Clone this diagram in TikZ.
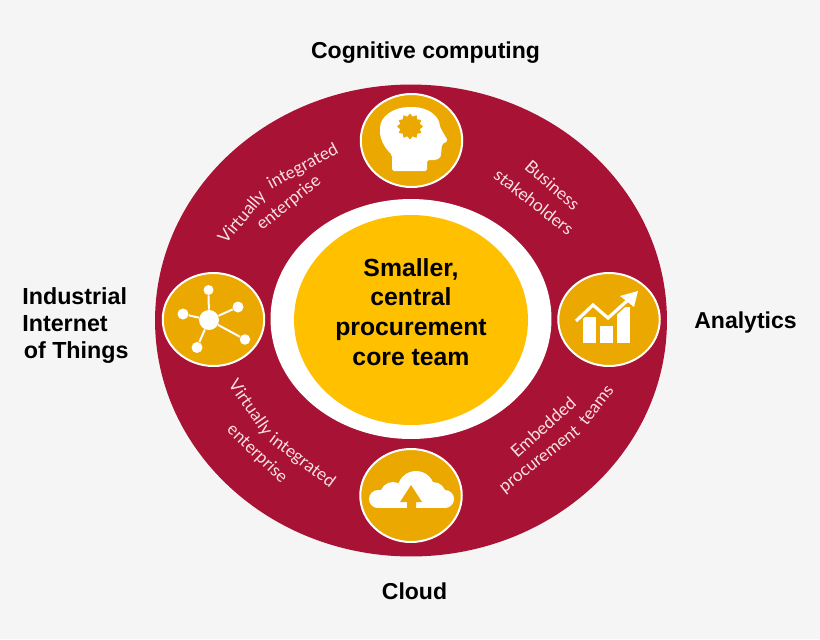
\documentclass[tikz,border=0pt]{standalone}
\usepackage{fontspec}
\setmainfont{Liberation Sans}
\newfontfamily\ringfont{Lato}
\usepackage{xcolor}
\usepackage{tikz}
\usetikzlibrary{positioning,shapes.geometric}
\definecolor{pagegrey}{RGB}{245,245,245}
\definecolor{ringred}{RGB}{168,18,52}
\definecolor{coreyellow}{RGB}{255,192,0}
\definecolor{icongold}{RGB}{234,168,0}
\definecolor{ringtextcol}{RGB}{250,225,228}

\begin{document}
\begin{tikzpicture}[
    x=0.02cm, y=-0.02cm,
    disc/.style={ellipse, inner sep=0pt, minimum width=#1},
    hubicon/.style={disc=2.03cm, minimum height=1.86cm, draw=white, line width=0.04cm, fill=icongold},
    toplabel/.style={font=\bfseries\fontsize{13.1}{15.6}\selectfont, text=black, inner sep=0pt},
    ringtext/.style={font=\ringfont\fontsize{9.8}{12}\selectfont, text=ringtextcol, inner sep=0pt, rotate=#1},
    dot/.style={circle, fill=white, inner sep=0pt, minimum size=#1},
    link/.style={draw=white, line width=0.04cm}
]
\useasboundingbox (0,0) rectangle (820,639);
\fill[pagegrey] (0,0) rectangle (820,639);

\node[disc=10.24cm, minimum height=9.44cm, fill=ringred] (ring) at (411,320.5) {};
\node[disc=5.62cm, minimum height=4.8cm, fill=white] (gap) at (411,319) {};
\node[disc=4.68cm, minimum height=4.2cm, fill=coreyellow] (core) at (411,320) {};
\node[align=center, inner sep=0pt, font=\bfseries\fontsize{14.1}{17}\selectfont] (coretext) at (411,312)
    {Smaller,\\central\\procurement\\core team};

\node[hubicon] (cognitive) at (411.5,140.5) {};
\node[hubicon] (iiot) at (213.5,319.5) {};
\node[hubicon] (analytics) at (609,319.5) {};
\node[hubicon] (cloud) at (411,495.5) {};

\node[toplabel] (cognitivelbl) at (425.5,53) {Cognitive computing};
\node[toplabel] (analyticslbl) at (745.5,323) {Analytics};
\node[toplabel] (cloudlbl) at (414.5,591) {Cloud};
\node[toplabel, font=\bfseries\fontsize{13.25}{15.6}\selectfont, align=left, anchor=west] (iiotlbl) at (22,325.5)
    {Industrial\\Internet\\\hspace*{0.03cm}of Things};

% ring texts
\node[ringtext=50] (virtuallytop) at (242.5,217.5) {Virtually};
\node[ringtext=28] (integratedtop) at (303,167) {integrated};
\node[ringtext=39] (enterprisetop) at (289,203) {enterprise};
\node[ringtext=-41] (business) at (552.5,185) {Business};
\node[ringtext=-38] (stakeholders) at (534,202) {stakeholders};
\node[ringtext=-55] (virtuallybot) at (250,408) {Virtually};
\node[ringtext=-37] (integratedbot) at (302,461) {integrated};
\node[ringtext=-44] (enterprisebot) at (257,454) {enterprise};
\node[ringtext=42] (embedded) at (543,427) {Embedded};
\node[ringtext=38] (procurement) at (540,460) {procurement};
\node[ringtext=52] (teams) at (596,405) {teams};

% head
\fill[white, rounded corners=1pt] (392,171) -- (392,155)
    .. controls (385,148) and (380,140) .. (380,130)
    .. controls (380,116) and (394,107) .. (411,107)
    .. controls (428,107) and (439,116) .. (440,127)
    -- (448,141) -- (442,144) -- (441,155)
    .. controls (440,158) and (437,160) .. (433,160)
    -- (427,160) -- (427,171) -- cycle;
\node[star, star points=12, star point ratio=1.28, fill=icongold, inner sep=0pt, minimum size=0.52cm] (idea) at (410,126.5) {};

% network
\node[dot=0.4cm] (hub) at (209,320) {};
\foreach \name/\pos/\size in {n1/{(208.5,290)}/0.2cm, n2/{(238,307)}/0.22cm, n3/{(245,339.5)}/0.21cm,
    n4/{(197,347.5)}/0.22cm, n5/{(183,314)}/0.22cm} {
    \node[dot=\size] (\name) at \pos {};
    \draw[link] (hub) -- (\name);
}

% chart
\fill[white] (583,317) rectangle (596,343);
\fill[white] (600,326) rectangle (613,343);
\fill[white] (617,307) rectangle (630,343);
\draw[icongold, line width=0.13cm] (576,321) -- (593,305) -- (608,318) -- (628,300);
\draw[white, line width=0.065cm] (576,321) -- (593,305) -- (608,318) -- (628,300);
\fill[white] (638,291) -- (620,296) -- (634,307) -- cycle;

% cloud
\foreach \cx/\cy/\rad in {378/499/9, 393/495/13, 416/489.5/18.5, 433/495/13, 445/499/9}
    \fill[white] (\cx,\cy) circle[radius=\rad];
\fill[white] (378,490) rectangle (445,508);
\fill[icongold] (411,485) -- (422,502) -- (416,502) -- (416,508) -- (407,508) -- (407,502) -- (400,502) -- cycle;

\end{tikzpicture}
\end{document}
